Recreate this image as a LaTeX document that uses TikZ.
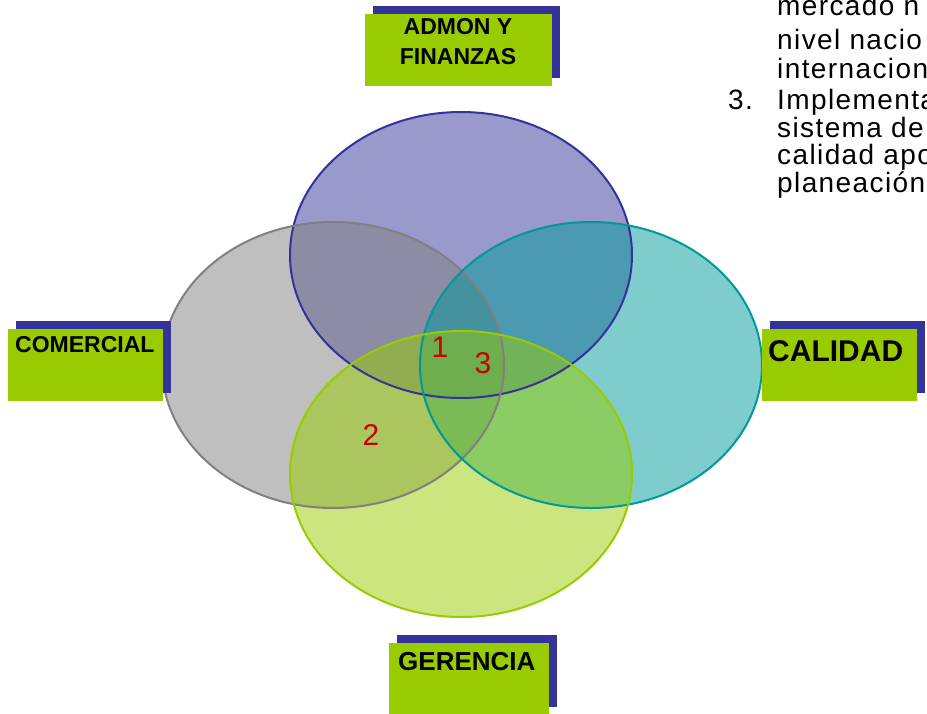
\documentclass[tikz,border=0pt]{standalone}
\usepackage{fontspec}
\setmainfont{Liberation Sans}
\definecolor{cpurple}{HTML}{333399}
\definecolor{cgray}{HTML}{808080}
\definecolor{cteal}{HTML}{009999}
\definecolor{cgreen}{HTML}{99CC00}
\definecolor{boxgreen}{HTML}{99CC00}
\definecolor{shadowblue}{HTML}{333399}
\definecolor{numred}{HTML}{CC0000}
\begin{document}
\begin{tikzpicture}[x=1pt,y=-1pt,
  vfill/.style={fill opacity=0.5},
  vline/.style={line width=2pt},
  shadowbox/.style={fill=shadowblue, inner sep=0pt, minimum width=155pt, minimum height=72pt},
  greenbox/.style={fill=boxgreen, inner sep=0pt, minimum width=155pt, minimum height=72pt},
  lbl/.style={inner sep=0pt, anchor=base west},
  num/.style={inner sep=0pt, text=numred, font=\fontsize{30}{30}\selectfont},
  body/.style={inner sep=0pt, anchor=base west, font=\fontsize{28}{28}\selectfont\addfontfeature{LetterSpace=5}}]
\useasboundingbox (0,0) rectangle (927,713);
\clip (0,0) rectangle (927,713);
% ellipse fills
\fill[cpurple, vfill] (461,255) ellipse [x radius=171pt, y radius=143pt];
\fill[cgray, vfill] (333,365) ellipse [x radius=171pt, y radius=143pt];
\fill[cteal, vfill] (591,365) ellipse [x radius=171pt, y radius=143pt];
\fill[cgreen, vfill] (461,474) ellipse [x radius=171pt, y radius=143pt];
% ellipse outlines
\draw[cpurple, vline] (461,255) ellipse [x radius=171pt, y radius=143pt];
\draw[cgray, vline] (333,365) ellipse [x radius=171pt, y radius=143pt];
\draw[cteal, vline] (591,365) ellipse [x radius=171pt, y radius=143pt];
\draw[cgreen, vline] (461,474) ellipse [x radius=171pt, y radius=143pt];
% numbers
\node[num] (n1) at (440,347) {1};
\node[num] (n3) at (483,363) {3};
\node[num] (n2) at (371,435) {2};
% label boxes
\node[shadowbox, minimum width=187pt] (admonsh) at (466.5,42) {};
\node[greenbox, minimum width=187pt] (admonbx) at (458.5,50) {};
\node[inner sep=0pt, align=center, font=\fontsize{23}{30}\selectfont\bfseries] (admon) at (458,41.5) {ADMON Y\\FINANZAS};
\node[shadowbox] (comsh) at (93.5,357) {};
\node[greenbox] (combx) at (85.5,365) {};
\node[lbl, font=\fontsize{23}{23}\selectfont\bfseries] (com) at (15,352.5) {COMERCIAL};
\node[shadowbox] (calsh) at (847.5,357) {};
\node[greenbox] (calbx) at (839.5,365) {};
\node[lbl, font=\fontsize{30}{30}\selectfont\bfseries] (cal) at (768,361.5) {CALIDAD};
\node[shadowbox, minimum width=160pt] (gersh) at (477,671) {};
\node[greenbox, minimum width=160pt] (gerbx) at (469,679) {};
\node[lbl, font=\fontsize{26}{26}\selectfont\bfseries] (ger) at (398,670) {GERENCIA};
% right-hand text
\node[body] (t1) at (777,15) {mercado n};
\node[body] (t2) at (777,49) {nivel nacio};
\node[body] (t3) at (777,78) {internacion};
\node[body] (t4n) at (728,109) {3.};
\node[body] (t4) at (777,109) {Implementa};
\node[body] (t5) at (777,137) {sistema de};
\node[body] (t6) at (777,164) {calidad apo};
\node[body] (t7) at (777,192) {planeación};
\end{tikzpicture}
\end{document}
